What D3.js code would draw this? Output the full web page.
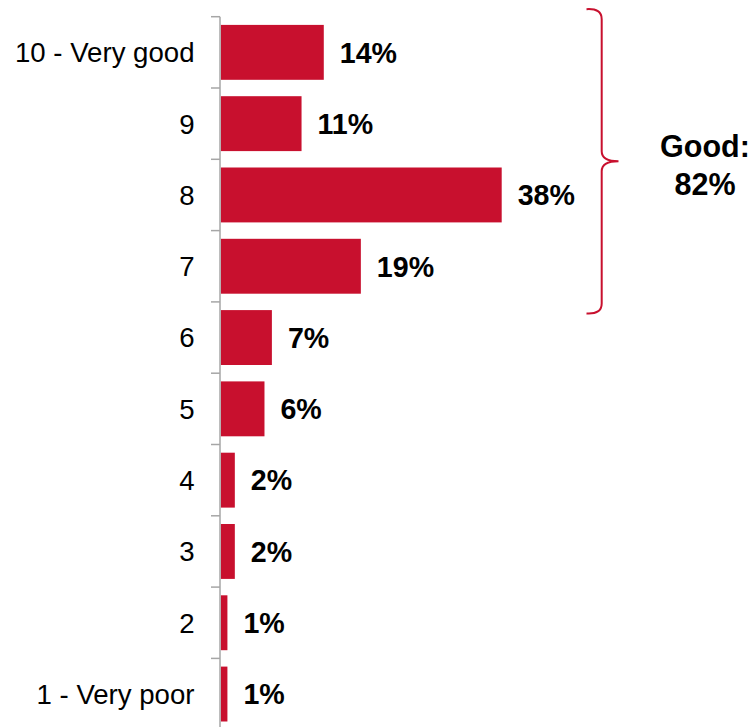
<!DOCTYPE html>
<html>
<head>
<meta charset="utf-8">
<script src="https://cdn.jsdelivr.net/npm/d3@7"></script>
<style>
  html, body { margin: 0; padding: 0; background: #fff; }
  svg { display: block; font-family: "Liberation Sans", Arial, sans-serif; }
</style>
</head>
<body>
<svg id="chart" width="754" height="727"></svg>
<script>
const categories = ["10 - Very good", "9", "8", "7", "6", "5", "4", "3", "2", "1 - Very poor"];
const values = [14, 11, 38, 19, 7, 6, 2, 2, 1, 1];
const valueLabels = ["14%", "11%", "38%", "19%", "7%", "6%", "2%", "2%", "1%", "1%"];
const braceGroup = ["10 - Very good", "9", "8", "7"];
const braceLabel = ["Good:", "82%"];

const barColor = "#C8102E";
const axisColor = "#a6a6a6";

const svg = d3.select("#chart");

const x = d3.scaleLinear().domain([0, 38]).range([220, 501.7]);
const y = d3.scaleBand()
  .domain(categories)
  .range([16.7, 729.7])
  .paddingInner(0.23)
  .paddingOuter(0.115);
const step = y.step();
const half = step * 0.23 / 2;

// bars
svg.append("g").selectAll("rect")
  .data(categories)
  .join("rect")
  .attr("x", x(0) + 0.8)
  .attr("y", d => y(d))
  .attr("width", (d, i) => x(values[i]) - x(0) - 0.8)
  .attr("height", y.bandwidth())
  .attr("fill", barColor);

// axis line and ticks
const axisG = svg.append("g");
axisG.append("line")
  .attr("x1", x(0)).attr("x2", x(0))
  .attr("y1", y.range()[0]).attr("y2", y.range()[1])
  .attr("stroke", axisColor).attr("stroke-width", 1.5);
const tickYs = categories.map(d => y(d) - half).concat([y.range()[1]]);
axisG.selectAll("line.tick")
  .data(tickYs)
  .join("line")
  .attr("class", "tick")
  .attr("x1", x(0) - 9).attr("x2", x(0))
  .attr("y1", d => d).attr("y2", d => d)
  .attr("stroke", axisColor).attr("stroke-width", 1.5);

// category labels
svg.append("g").selectAll("text")
  .data(categories)
  .join("text")
  .attr("x", 194.5)
  .attr("y", d => y(d) + y.bandwidth() / 2)
  .attr("dy", "0.36em")
  .attr("text-anchor", "end")
  .attr("font-size", 27.6)
  .attr("fill", "#000")
  .text(d => d);

// value labels
svg.append("g").selectAll("text")
  .data(categories)
  .join("text")
  .attr("x", (d, i) => x(values[i]) + 16)
  .attr("y", d => y(d) + y.bandwidth() / 2)
  .attr("dy", "0.36em")
  .attr("font-size", 28.6)
  .attr("font-weight", "bold")
  .attr("fill", "#000")
  .text((d, i) => valueLabels[i]);

// brace
const braceTop = y(braceGroup[0]) - half - 7.5;
const braceBot = y(braceGroup[braceGroup.length - 1]) + y.bandwidth() + half + 11.5;
const braceMid = (braceTop + braceBot) / 2;
const bx = 601.7, bl = 586.5, bt = 618.5, r = 10;
const path = d3.path();
path.moveTo(bl, braceTop);
path.quadraticCurveTo(bx, braceTop - 1, bx, braceTop + r);
path.lineTo(bx, braceMid - r);
path.quadraticCurveTo(bx, braceMid, bt, braceMid);
path.quadraticCurveTo(bx, braceMid, bx, braceMid + r);
path.lineTo(bx, braceBot - r);
path.quadraticCurveTo(bx, braceBot + 1, bl, braceBot);
svg.append("path")
  .attr("d", path.toString())
  .attr("fill", "none")
  .attr("stroke", barColor)
  .attr("stroke-width", 2);

svg.append("g").selectAll("text")
  .data(braceLabel)
  .join("text")
  .attr("x", 705)
  .attr("y", (d, i) => 157 + i * 38)
  .attr("text-anchor", "middle")
  .attr("font-size", 30.5)
  .attr("font-weight", "bold")
  .attr("fill", "#000")
  .text(d => d);
</script>
</body>
</html>
